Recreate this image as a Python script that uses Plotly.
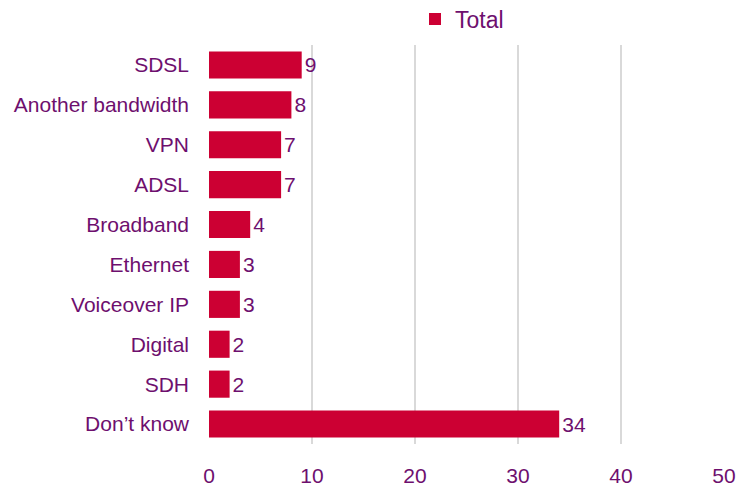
import plotly.graph_objects as go

categories = ["SDSL", "Another bandwidth", "VPN", "ADSL", "Broadband", "Ethernet",
              "Voiceover IP", "Digital", "SDH", "Don\u2019t know"]
values = [9, 8, 7, 7, 4, 3, 3, 2, 2, 34]
x_ticks = [0, 10, 20, 30, 40, 50]

TEXT = "#6E0F6E"
BAR = "#CC0033"
FONT = "Liberation Sans, Arial, sans-serif"
FS = 21

fig = go.Figure(go.Bar(
    y=categories, x=values, orientation="h", name="Total",
    marker=dict(color=BAR, line=dict(width=0)),
    text=[str(v) for v in values], textposition="outside",
    textfont=dict(color=TEXT, size=FS, family=FONT),
    cliponaxis=False, showlegend=True,
))

fig.update_layout(
    width=737, height=489,
    margin=dict(l=209, r=13, t=45, b=45),
    paper_bgcolor="white", plot_bgcolor="white",
    font=dict(family=FONT, color=TEXT, size=FS),
    bargap=0.32,
    showlegend=True,
    legend=dict(orientation="h", xref="container", yref="container",
                x=415 / 737, xanchor="left", y=1 - 19 / 489, yanchor="middle",
                font=dict(size=23, color=TEXT), itemwidth=30,
                bgcolor="rgba(0,0,0,0)"),
    xaxis=dict(range=[0, 50], tickvals=x_ticks, showgrid=True, gridcolor="#D9D9D9",
               gridwidth=2, zeroline=False, showline=False, automargin=False,
               tickfont=dict(size=FS, color=TEXT), ticks="", ticklabelstandoff=17),
    yaxis=dict(autorange="reversed", showgrid=False, showline=False, zeroline=False,
               automargin=False,
               tickfont=dict(size=FS, color=TEXT), ticks="", ticklabelstandoff=19),
)

fig.write_html("out.html", config={"displayModeBar": False},
               post_script="document.body.style.margin='0';")
